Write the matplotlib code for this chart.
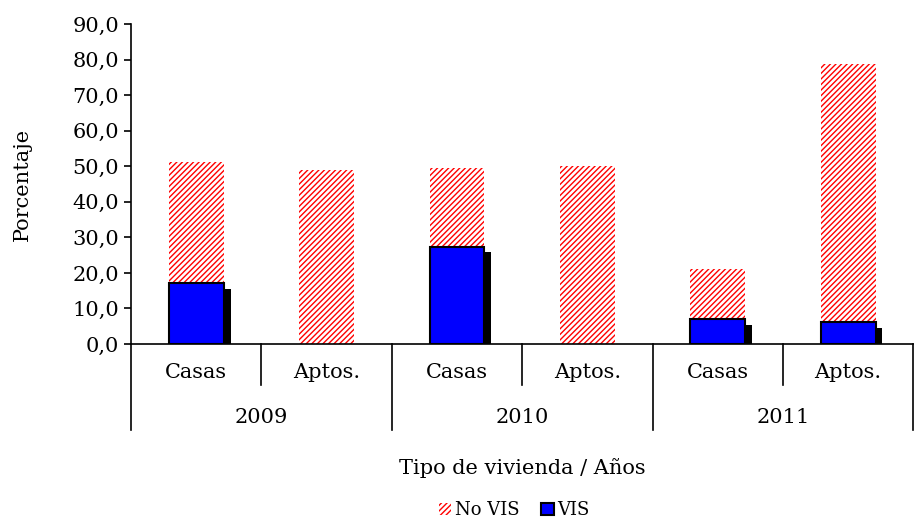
import numpy as np
import matplotlib
matplotlib.use("Agg")
import matplotlib.pyplot as plt
import matplotlib.patheffects as pe
from matplotlib.patches import Patch

# Datos
anios = ["2009", "2010", "2011"]
tipos = ["Casas", "Aptos.", "Casas", "Aptos.", "Casas", "Aptos."]
no_vis = [51.2, 48.9, 49.4, 50.1, 21.0, 78.7]
vis = [17.1, 0.0, 27.4, 0.0, 6.9, 6.1]

plt.rcParams['font.family'] = ['DejaVu Serif']
plt.rcParams['hatch.linewidth'] = 1.0

fs = 15

fig = plt.figure(figsize=(9.14, 5.21), dpi=100)
ax = fig.add_axes([0.1433, 0.3397, 0.856, 0.614])

x = np.arange(len(tipos))
ancho = 0.42

ax.bar(x, no_vis, ancho, color="white", edgecolor="red", hatch="//////",
       linewidth=0, zorder=2)
barras = ax.bar(x, vis, ancho, color="blue", edgecolor="black", linewidth=1.5,
                zorder=3)
for b, v in zip(barras, vis):
    if v > 0:
        b.set_path_effects([pe.SimplePatchShadow(offset=(5, -4), shadow_rgbFace="black", alpha=1),
                            pe.Normal()])
    else:
        b.set_visible(False)

ax.set_xlim(-0.5, 5.5)
ax.set_ylim(0, 90)
ax.set_yticks(np.arange(0, 91, 10))
ax.set_yticklabels([f"{v:.1f}".replace(".", ",") for v in np.arange(0, 91, 10)], fontsize=fs)
ax.tick_params(axis="y", length=5, width=1.2, direction="out")
ax.set_xticks([])
for s in ["top", "right"]:
    ax.spines[s].set_visible(False)
ax.spines["left"].set_linewidth(1.2)
ax.spines["bottom"].set_linewidth(1.2)

ax.set_ylabel("Porcentaje", fontsize=fs)
ax.yaxis.set_label_coords(-0.127, 0.5)

# Eje x jerarquico
tr = ax.get_xaxis_transform()
for i, t in enumerate(tipos):
    ax.text(x[i], -0.0875, t, transform=tr, ha="center", va="center", fontsize=fs)
for k, a in enumerate(anios):
    ax.text(2 * k + 0.5, -0.231, a, transform=tr, ha="center", va="center", fontsize=fs)
for k in range(len(anios)):
    ax.plot([2 * k + 0.5, 2 * k + 0.5], [0, -0.128], transform=tr, color="black",
            lw=1.2, clip_on=False)
for k in range(len(anios) + 1):
    ax.plot([2 * k - 0.5, 2 * k - 0.5], [0, -0.269], transform=tr, color="black",
            lw=1.2, clip_on=False)

ax.text(0.5, -0.3875, "Tipo de vivienda / Años", transform=ax.transAxes,
        ha="center", va="center", fontsize=fs)

handles = [Patch(facecolor="white", edgecolor="red", hatch="//////", linewidth=0, label="No VIS"),
           Patch(facecolor="blue", edgecolor="black", linewidth=1.5, label="VIS")]
ax.legend(handles=handles, loc="center", bbox_to_anchor=(0.49, -0.52), ncol=2,
          frameon=False, fontsize=13, handlelength=0.7, handleheight=0.7,
          handletextpad=0.2, columnspacing=1.2)

fig.savefig("out.png", dpi=100)
